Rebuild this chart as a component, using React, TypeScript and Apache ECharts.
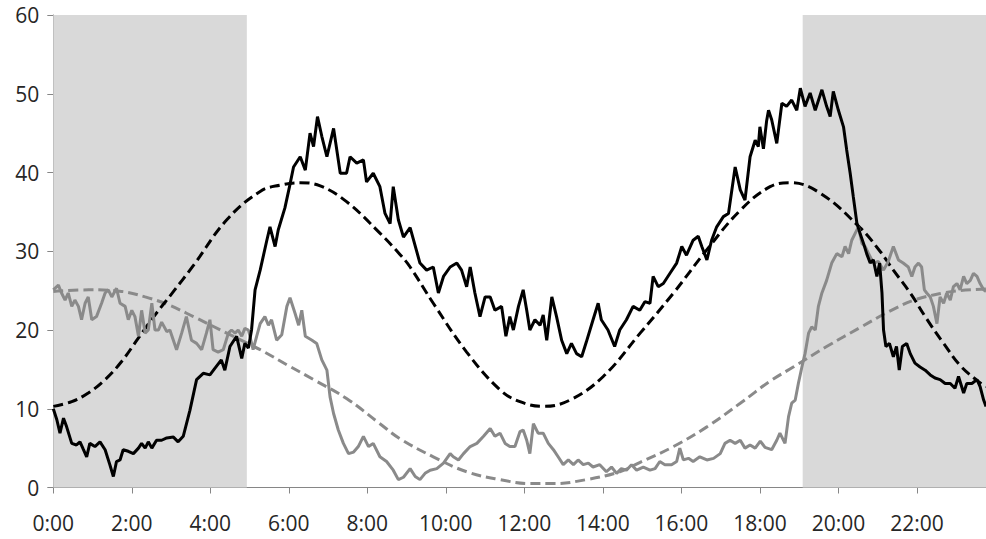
import React, { useEffect, useRef } from "react";
import * as echarts from "echarts";

// x = hour of day, y = value
const xMax = 23.76;
const hourTicks = [0, 2, 4, 6, 8, 10, 12, 14, 16, 18, 20, 22];
const nightBands: [number, number][] = [
  [0, 4.93],
  [19.09, 23.76],
];

const blackSolid: [number, number][] = [
  [0.0, 10.0], [0.09, 8.6], [0.17, 6.9], [0.26, 8.8], [0.34, 7.7], [0.47, 5.6], [0.59, 5.4], [0.68, 5.8],
  [0.76, 4.9], [0.85, 3.9], [0.93, 5.6], [1.06, 5.2], [1.19, 5.8], [1.32, 4.8], [1.44, 2.9], [1.53, 1.4],
  [1.61, 3.3], [1.7, 3.5], [1.78, 4.8], [1.91, 4.6], [2.04, 4.3], [2.17, 5.0], [2.25, 5.6], [2.34, 5.0],
  [2.42, 5.8], [2.51, 5.0], [2.63, 6.0], [2.76, 6.0], [2.89, 6.3], [3.06, 6.4], [3.18, 5.8], [3.31, 6.5],
  [3.48, 9.8], [3.65, 13.7], [3.82, 14.5], [3.99, 14.3], [4.11, 15.1], [4.28, 16.2], [4.37, 14.9], [4.5, 17.9],
  [4.67, 19.2], [4.8, 16.4], [4.88, 18.3], [4.97, 17.7], [5.05, 20.0], [5.14, 25.1], [5.27, 27.6], [5.44, 31.4],
  [5.52, 33.1], [5.65, 30.6], [5.73, 32.7], [5.9, 35.5], [6.03, 38.5], [6.12, 40.7], [6.29, 42.0], [6.42, 40.3],
  [6.54, 45.0], [6.63, 43.3], [6.73, 47.1], [6.84, 44.6], [6.97, 42.0], [7.14, 45.6], [7.31, 39.9], [7.47, 39.9],
  [7.56, 42.0], [7.73, 41.2], [7.9, 41.6], [7.98, 38.8], [8.15, 39.9], [8.32, 38.2], [8.45, 34.8], [8.58, 33.5],
  [8.66, 38.2], [8.79, 34.0], [8.92, 31.8], [9.09, 33.0], [9.34, 28.5], [9.51, 27.6], [9.68, 28.0], [9.81, 24.7],
  [9.94, 26.8], [10.11, 28.0], [10.28, 28.5], [10.4, 27.6], [10.53, 25.5], [10.62, 28.0], [10.74, 24.7], [10.87, 21.7],
  [11.0, 24.2], [11.13, 24.2], [11.25, 22.5], [11.42, 23.0], [11.53, 19.2], [11.63, 21.7], [11.72, 20.0], [11.85, 23.0],
  [11.97, 25.1], [12.06, 22.5], [12.14, 20.0], [12.27, 21.3], [12.4, 20.6], [12.48, 21.9], [12.57, 18.7], [12.7, 24.2],
  [12.82, 21.7], [12.95, 18.7], [13.08, 17.0], [13.2, 18.3], [13.33, 17.0], [13.46, 16.6], [13.58, 18.5], [13.75, 21.3],
  [13.88, 23.4], [13.96, 21.3], [14.13, 20.0], [14.3, 17.9], [14.43, 20.0], [14.6, 21.3], [14.77, 23.0], [14.94, 22.5],
  [15.07, 23.6], [15.2, 23.4], [15.28, 26.8], [15.41, 25.5], [15.54, 25.9], [15.71, 27.2], [15.88, 28.5], [16.01, 30.6],
  [16.13, 29.5], [16.3, 31.4], [16.43, 31.9], [16.52, 30.6], [16.65, 28.9], [16.77, 31.4], [16.9, 33.1], [17.07, 34.4],
  [17.2, 34.8], [17.37, 40.7], [17.5, 37.8], [17.62, 36.5], [17.75, 42.0], [17.88, 44.1], [17.96, 43.3], [18.0, 45.8],
  [18.09, 43.0], [18.17, 46.5], [18.22, 47.9], [18.3, 46.7], [18.43, 43.7], [18.56, 48.8], [18.68, 48.4], [18.81, 49.2],
  [18.94, 47.9], [19.03, 50.7], [19.15, 48.4], [19.28, 50.1], [19.41, 47.9], [19.58, 50.5], [19.7, 48.4], [19.79, 47.1],
  [19.87, 50.3], [20.0, 47.9], [20.13, 45.8], [20.21, 42.9], [20.3, 39.9], [20.38, 36.9], [20.47, 33.6], [20.55, 32.3],
  [20.64, 31.0], [20.72, 29.7], [20.81, 28.5], [20.89, 28.9], [20.98, 26.8], [21.05, 28.5], [21.11, 24.7], [21.15, 20.0],
  [21.21, 17.9], [21.3, 18.3], [21.4, 16.6], [21.48, 17.9], [21.55, 14.9], [21.63, 17.9], [21.74, 18.3], [21.83, 17.0],
  [21.95, 15.8], [22.08, 15.3], [22.21, 14.9], [22.34, 14.3], [22.46, 13.9], [22.59, 13.7], [22.72, 13.2], [22.85, 13.2],
  [22.97, 12.6], [23.06, 14.1], [23.19, 12.0], [23.27, 13.2], [23.4, 13.2], [23.53, 13.7], [23.61, 12.8], [23.7, 11.1],
  [23.76, 10.3],
];

const graySolid: [number, number][] = [
  [0.0, 25.1], [0.13, 25.7], [0.21, 24.7], [0.3, 23.8], [0.38, 24.7], [0.47, 23.0], [0.55, 23.8], [0.64, 23.0],
  [0.72, 21.3], [0.81, 23.4], [0.89, 24.2], [0.98, 21.3], [1.1, 21.7], [1.23, 23.4], [1.32, 24.7], [1.4, 25.1],
  [1.49, 24.2], [1.61, 25.3], [1.7, 23.4], [1.83, 23.0], [1.91, 21.3], [2.0, 22.5], [2.08, 21.7], [2.17, 19.2],
  [2.25, 22.5], [2.34, 19.6], [2.42, 20.0], [2.51, 23.4], [2.59, 20.0], [2.68, 20.0], [2.76, 21.0], [2.89, 19.8],
  [2.97, 20.0], [3.14, 17.5], [3.27, 19.6], [3.39, 21.7], [3.52, 18.7], [3.65, 18.3], [3.78, 17.5], [3.9, 19.6],
  [3.99, 21.3], [4.07, 17.5], [4.2, 17.2], [4.33, 17.5], [4.46, 19.6], [4.54, 20.0], [4.63, 19.6], [4.71, 20.0],
  [4.8, 19.2], [4.88, 20.2], [4.97, 20.0], [5.09, 17.5], [5.18, 19.2], [5.27, 20.8], [5.39, 21.7], [5.48, 20.6],
  [5.56, 21.3], [5.69, 18.7], [5.82, 19.4], [5.95, 23.0], [6.03, 24.1], [6.16, 22.1], [6.25, 20.6], [6.33, 22.5],
  [6.42, 19.2], [6.59, 18.7], [6.71, 18.3], [6.84, 16.2], [6.97, 14.9], [7.05, 11.5], [7.14, 9.4], [7.26, 7.3],
  [7.39, 5.6], [7.52, 4.3], [7.65, 4.5], [7.77, 5.2], [7.9, 6.5], [8.03, 5.2], [8.15, 5.6], [8.32, 3.9],
  [8.49, 3.3], [8.66, 2.2], [8.79, 1.0], [8.92, 1.3], [9.09, 2.4], [9.22, 1.4], [9.34, 1.0], [9.47, 1.8],
  [9.6, 2.2], [9.77, 2.4], [9.94, 3.1], [10.11, 4.3], [10.19, 3.9], [10.32, 3.5], [10.45, 4.3], [10.62, 5.2],
  [10.79, 5.6], [10.96, 6.5], [11.13, 7.5], [11.25, 6.5], [11.38, 6.9], [11.51, 5.6], [11.63, 5.2], [11.76, 5.2],
  [11.89, 7.1], [11.97, 7.3], [12.06, 6.0], [12.14, 4.3], [12.23, 8.1], [12.35, 6.9], [12.48, 6.9], [12.61, 5.6],
  [12.74, 4.8], [12.86, 3.9], [12.99, 2.9], [13.12, 3.5], [13.25, 2.9], [13.37, 3.5], [13.5, 2.9], [13.63, 3.1],
  [13.75, 2.6], [13.92, 2.9], [14.09, 2.0], [14.22, 2.6], [14.35, 1.8], [14.47, 2.4], [14.6, 2.2], [14.73, 2.9],
  [14.86, 2.2], [15.03, 2.6], [15.2, 2.2], [15.33, 2.4], [15.45, 3.3], [15.58, 2.9], [15.75, 2.9], [15.88, 3.3],
  [15.96, 5.0], [16.05, 3.5], [16.18, 3.7], [16.3, 3.3], [16.47, 3.9], [16.65, 3.5], [16.82, 3.7], [16.99, 4.3],
  [17.11, 5.6], [17.24, 6.0], [17.37, 5.6], [17.5, 6.0], [17.62, 5.0], [17.75, 5.4], [17.88, 5.0], [18.01, 5.9],
  [18.13, 5.1], [18.3, 4.8], [18.43, 6.0], [18.51, 6.9], [18.64, 5.6], [18.73, 9.0], [18.81, 10.7], [18.9, 11.1],
  [18.98, 13.2], [19.07, 15.3], [19.15, 17.0], [19.24, 19.6], [19.32, 20.4], [19.41, 20.0], [19.49, 23.0], [19.58, 24.7],
  [19.7, 26.3], [19.83, 28.5], [19.96, 29.7], [20.09, 29.3], [20.17, 30.6], [20.26, 29.7], [20.34, 31.4], [20.43, 32.3],
  [20.51, 33.1], [20.6, 31.0], [20.68, 30.6], [20.77, 29.7], [20.89, 28.5], [21.02, 28.7], [21.15, 27.6], [21.27, 28.7],
  [21.4, 30.6], [21.53, 28.9], [21.65, 28.5], [21.78, 28.0], [21.87, 26.8], [21.95, 28.0], [22.04, 28.5], [22.12, 28.0],
  [22.19, 25.1], [22.25, 24.7], [22.34, 24.2], [22.42, 23.0], [22.51, 20.8], [22.59, 24.2], [22.68, 23.4], [22.76, 24.7],
  [22.85, 23.8], [22.93, 25.5], [23.02, 25.9], [23.1, 25.1], [23.19, 26.8], [23.27, 25.9], [23.36, 26.3], [23.44, 27.2],
  [23.53, 26.8], [23.61, 25.9], [23.7, 25.1], [23.76, 24.9],
];

const blackDashed: [number, number][] = [
  [0, 10.3], [0.47, 10.9], [0.89, 12.0], [1.32, 13.7], [1.74, 16.0], [2.17, 19.0], [2.59, 21.9], [3.0, 24.5],
  [3.57, 28.2], [4.42, 34.0], [5.27, 37.6], [5.78, 38.4], [6.29, 38.7], [6.8, 38.3], [7.47, 36.3], [8.32, 32.3],
  [8.83, 29.6], [9.09, 28.0], [9.68, 23.4], [10.53, 17.2], [11.38, 12.4], [11.89, 10.9], [12.48, 10.3], [13.16, 11.1],
  [14.01, 14.1], [14.95, 19.6], [15.8, 24.7], [16.65, 30.2], [17.5, 35.2], [18.26, 38.2], [18.77, 38.7], [19.53, 37.4],
  [20.55, 33.0], [21.06, 30.0], [21.4, 27.6], [21.83, 24.7], [22.25, 21.4], [22.68, 18.3], [23.1, 15.5], [23.53, 13.6],
  [23.76, 12.8],
];

const grayDashed: [number, number][] = [
  [0, 24.9], [0.9, 25.1], [1.74, 24.9], [2.34, 24.2], [2.93, 23.2], [3.57, 21.7], [4.42, 19.6], [5.27, 17.5],
  [5.98, 15.5], [6.63, 13.7], [7.47, 11.3], [8.32, 8.1], [8.83, 6.2], [9.68, 3.9], [10.53, 2.0], [11.38, 1.0],
  [12.15, 0.5], [12.74, 0.5], [13.58, 1.0], [14.43, 2.0], [14.95, 3.2], [15.8, 5.2], [16.65, 7.7], [17.5, 10.7],
  [18.26, 13.5], [18.85, 15.3], [19.7, 17.9], [20.55, 20.3], [21.31, 22.4], [21.99, 23.9], [22.68, 24.7], [23.1, 25.0],
  [23.76, 25.2],
];

const FONT = "'Open Sans', 'Liberation Sans', sans-serif";
const AXIS_GRAY = "#868686";
const LABEL_COLOR = "#262626";

export default function App() {
  const ref = useRef<HTMLDivElement>(null);
  useEffect(() => {
    document.body.style.margin = "0";
    const chart = echarts.init(ref.current!, null, { renderer: "svg" });
    const dash = [10, 5];
    chart.setOption({
      animation: false,
      backgroundColor: "#ffffff",
      textStyle: { fontFamily: FONT },
      grid: { left: 53.3, right: 0, top: 15, bottom: 51.5, containLabel: false },
      xAxis: {
        type: "value",
        min: 0,
        max: xMax,
        interval: 2,
        axisLine: { show: true, lineStyle: { color: AXIS_GRAY, width: 1 } },
        axisTick: { show: true, inside: false, length: 6, lineStyle: { color: AXIS_GRAY } },
        splitLine: { show: false },
        axisLabel: {
          margin: 25,
          fontSize: 21,
          color: LABEL_COLOR,
          fontFamily: FONT,
          showMaxLabel: false,
          formatter: (v: number) => (hourTicks.indexOf(v) >= 0 ? `${v}:00` : ""),
        },
      },
      yAxis: {
        type: "value",
        min: 0,
        max: 60,
        interval: 10,
        axisLine: { show: true, lineStyle: { color: AXIS_GRAY, width: 1 } },
        axisTick: { show: true, inside: false, length: 6, lineStyle: { color: AXIS_GRAY } },
        splitLine: { show: false },
        axisLabel: { margin: 14, fontSize: 21, color: LABEL_COLOR, fontFamily: FONT },
      },
      series: [
        {
          type: "line",
          name: "gray dashed",
          data: grayDashed,
          smooth: 0.4,
          showSymbol: false,
          symbol: "none",
          lineStyle: { color: "#8a8a8a", width: 3, type: dash },
          markArea: {
            silent: true,
            itemStyle: { color: "#d9d9d9" },
            data: nightBands.map(([a, b]) => [{ xAxis: a }, { xAxis: b }]),
          },
          z: 2,
        },
        {
          type: "line",
          name: "black dashed",
          data: blackDashed,
          smooth: 0.4,
          showSymbol: false,
          symbol: "none",
          lineStyle: { color: "#000000", width: 3, type: dash },
          z: 3,
        },
        {
          type: "line",
          name: "gray solid",
          data: graySolid,
          showSymbol: false,
          symbol: "none",
          lineStyle: { color: "#8a8a8a", width: 3 },
          z: 4,
        },
        {
          type: "line",
          name: "black solid",
          data: blackSolid,
          showSymbol: false,
          symbol: "none",
          lineStyle: { color: "#000000", width: 3 },
          z: 5,
        },
      ],
    });
    return () => chart.dispose();
  }, []);
  return <div ref={ref} style={{ width: 986, height: 539 }} />;
}
